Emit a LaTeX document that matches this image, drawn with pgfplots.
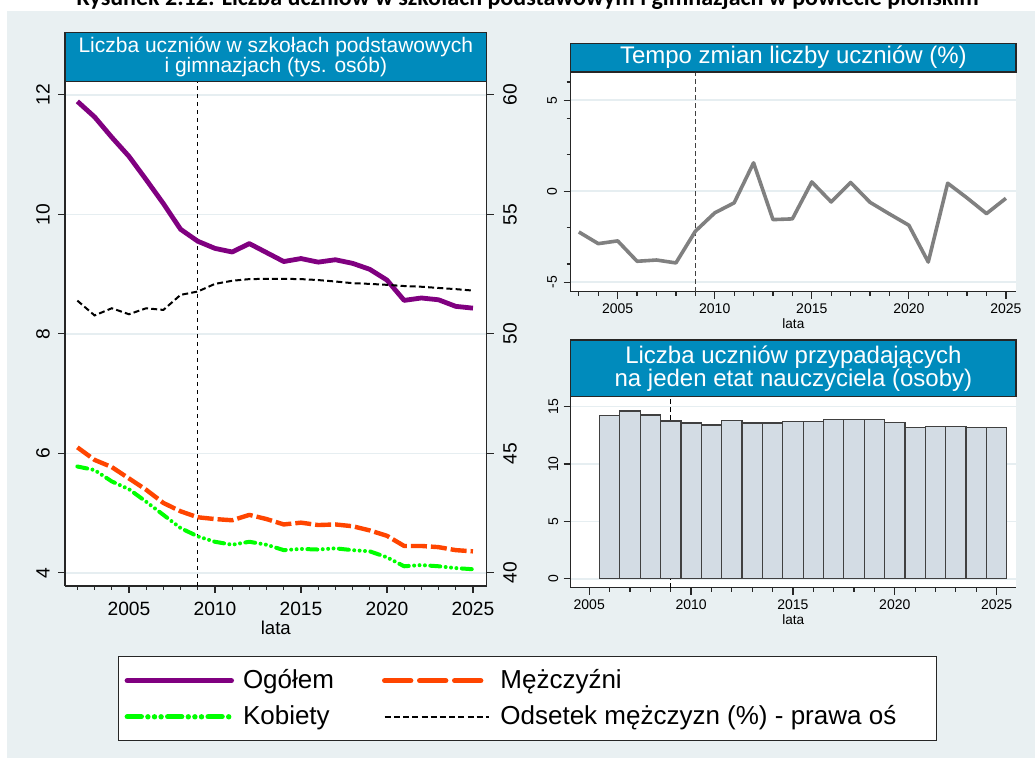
\documentclass[border=0pt]{standalone}
\usepackage{fontspec}
\setmainfont{Liberation Sans}
\newfontfamily\carlito{Carlito}
\usepackage{pgfplots}
\usepackage{pgfplotstable}
\pgfplotsset{compat=1.18}

\definecolor{ebblue}{RGB}{0,139,188}
\definecolor{bgcol}{RGB}{233,240,242}
\definecolor{gridc}{RGB}{230,238,241}
\definecolor{barfill}{RGB}{211,220,228}
\definecolor{ogol}{RGB}{128,0,128}
\definecolor{mez}{RGB}{255,69,0}
\definecolor{kob}{RGB}{0,255,0}
\definecolor{tempo}{RGB}{128,128,128}

\pgfplotstableread{
rok ogol mez kob ods
2002 11.89 6.10 5.78 51.39
2003 11.63 5.89 5.72 50.77
2004 11.29 5.77 5.53 51.07
2005 10.97 5.58 5.40 50.82
2006 10.58 5.39 5.19 51.07
2007 10.18 5.17 4.97 51.00
2008 9.75 5.03 4.75 51.63
2009 9.55 4.93 4.61 51.77
2010 9.43 4.90 4.52 52.09
2011 9.37 4.88 4.47 52.22
2012 9.51 4.97 4.52 52.29
2013 9.36 4.90 4.47 52.30
2014 9.21 4.81 4.38 52.30
2015 9.26 4.84 4.40 52.29
2016 9.20 4.80 4.39 52.25
2017 9.24 4.81 4.41 52.19
2018 9.18 4.78 4.38 52.12
2019 9.08 4.71 4.36 52.09
2020 8.90 4.62 4.26 52.05
2021 8.56 4.45 4.11 52.00
2022 8.60 4.45 4.13 51.97
2023 8.57 4.43 4.11 51.92
2024 8.46 4.38 4.08 51.87
2025 8.43 4.36 4.06 51.81
}\uczniowie

\pgfplotstableread{
rok tempo
2003 -2.24
2004 -2.88
2005 -2.73
2006 -3.85
2007 -3.78
2008 -3.94
2009 -2.20
2010 -1.19
2011 -0.64
2012 1.56
2013 -1.56
2014 -1.52
2015 0.51
2016 -0.59
2017 0.48
2018 -0.61
2019 -1.25
2020 -1.87
2021 -3.89
2022 0.44
2023 -0.37
2024 -1.23
2025 -0.39
}\tempotab

\pgfplotstableread{
rok etat
2006 14.22
2007 14.62
2008 14.27
2009 13.75
2010 13.58
2011 13.40
2012 13.81
2013 13.58
2014 13.58
2015 13.69
2016 13.69
2017 13.87
2018 13.87
2019 13.87
2020 13.63
2021 13.17
2022 13.26
2023 13.26
2024 13.17
2025 13.17
}\etattab

\pgfplotsset{
  panel/.style={
    scale only axis,
    /pgf/number format/assume math mode=true,
    /pgf/number format/1000 sep={},
    tick align=outside,
    axis line style={line width=0.75pt, black!85, -},
    every outer x axis line/.append style={-},
    every outer y axis line/.append style={-},
    tick style={line width=0.6pt, black!85},
    major tick length=3.5pt,
    minor tick length=2pt,
    grid style={gridc, line width=0.8pt},
    clip=false,
  },
  ogolS/.style={ogol, line width=2.4pt, line join=round},
  mezS/.style={mez, line width=2.2pt, line join=round, dash pattern=on 8pt off 2pt},
  kobS/.style={kob, line width=2pt, line cap=round, line join=round,
     dash pattern=on 5pt off 2.7pt on 0pt off 2.7pt on 0pt off 2.7pt on 0pt off 2.7pt},
  odsS/.style={black, line width=1pt, dash pattern=on 3pt off 1.6pt},
}

\begin{document}
\begin{tikzpicture}[x=1pt,y=1pt]
\useasboundingbox (0,0) rectangle (517.5,379);
\fill[bgcol] (3.5,0) rectangle (517.5,373.5);
\node[anchor=base, font=\carlito\bfseries\fontsize{12}{14}\selectfont] at (263.75,376)
  {Rysunek 2.12: Liczba uczniów w szkołach podstawowym i gimnazjach w powiecie płońskim};

% ---------------- left panel ----------------
\begin{axis}[panel,
  at={(32.5pt,86pt)}, anchor=south west,
  width=210.85pt, height=252.15pt,
  xmin=2001.28, xmax=2025.8, ymin=3.78, ymax=12.22,
  axis x line*=bottom, axis y line*=left,
  xtick pos=bottom, ytick pos=left,
  xtick={2005,2010,2015,2020,2025}, minor xtick={2002,...,2025},
  ytick={4,6,8,10,12},
  ymajorgrids,
  axis background/.style={fill=white},
  yticklabel style={rotate=90, anchor=center, yshift=7.5pt, font=\fontsize{9.6}{10}\selectfont},
  xticklabel style={anchor=center, yshift=-8pt, font=\fontsize{9.6}{10}\selectfont},
  xlabel={lata},
  xlabel style={at={(axis description cs:0.5,-0.0833)}, anchor=center, font=\fontsize{9.3}{10}\selectfont},
]
\addplot[black, line width=0.6pt, dash pattern=on 2.2pt off 1.8pt] coordinates {(2009,3.78) (2009,12.22)};
\addplot[ogolS] table[x=rok, y=ogol] {\uczniowie};
\addplot[mezS] table[x=rok, y=mez] {\uczniowie};
\addplot[kobS] table[x=rok, y=kob] {\uczniowie};
\end{axis}

\begin{axis}[panel,
  at={(32.5pt,86pt)}, anchor=south west,
  width=210.85pt, height=252.15pt,
  xmin=2001.28, xmax=2025.8, ymin=39.45, ymax=60.55,
  axis x line=none, axis y line*=right, ytick pos=right,
  ytick={40,45,50,55,60},
  yticklabel style={rotate=90, anchor=center, yshift=-8.15pt, font=\fontsize{9.6}{10}\selectfont},
  legend columns=2,
  legend cell align=left,
  legend image code/.code={\draw[#1] (0pt,0pt) -- (52pt,0pt); \path (56.5pt,0pt);},
  legend style={at={(0.1257,-0.1388)}, anchor=north west, draw=black!85, line width=0.6pt,
    fill=white, font=\fontsize{13}{15}\selectfont, inner xsep=3pt, inner ysep=6.5pt,
    nodes={inner sep=0pt}, row sep=7pt, column sep=0pt},
]
\addlegendimage{ogol, line width=2.7pt, line cap=round}
\addlegendentry{\makebox[69.5pt][l]{Ogółem}}
\addlegendimage{mez, line width=2.7pt, line cap=round, dash pattern=on 13pt off 4.5pt}
\addlegendentry{\makebox[215pt][l]{Mężczyźni}}
\addlegendimage{kob, line width=2.7pt, line cap=round,
   dash pattern=on 7pt off 3.3pt on 0pt off 3.3pt on 0pt off 3.3pt on 0pt off 3.3pt}
\addlegendentry{\makebox[69.5pt][l]{Kobiety}}
\addplot[odsS] table[x=rok, y=ods] {\uczniowie};
\addlegendentry{\makebox[215pt][l]{Odsetek mężczyzn (\%) - prawa oś}}
\end{axis}

\draw[fill=ebblue, draw=black!85, line width=0.75pt] (32.5,338.15) rectangle (243.35,362.85);
\node[text=white, align=center, font=\fontsize{10.5}{10}\selectfont] at (137.9,350.5)
  {Liczba uczniów w szkołach podstawowych\\ i gimnazjach (tys. osób)};

% ---------------- top right panel ----------------
\begin{axis}[panel,
  at={(285.35pt,233.15pt)}, anchor=south west,
  width=222.65pt, height=109.85pt,
  xmin=2002.58, xmax=2025.52, ymin=-5.52, ymax=6.55,
  axis x line*=bottom, axis y line*=left,
  xtick pos=bottom, ytick pos=left,
  xtick={2005,2010,2015,2020,2025}, minor xtick={2003,...,2025},
  ytick={-5,0,5}, minor ytick={-4,-2,2,4,6},
  ymajorgrids,
  axis background/.style={fill=white},
  yticklabel style={rotate=90, anchor=center, yshift=5.85pt, font=\fontsize{7}{8}\selectfont},
  xticklabel style={anchor=center, yshift=-5pt, font=\fontsize{7}{8}\selectfont},
  xlabel={lata},
  xlabel style={at={(axis description cs:0.5,-0.147)}, anchor=center, font=\fontsize{6.8}{8}\selectfont},
]
\addplot[black!75, line width=0.6pt, dash pattern=on 2.2pt off 1.8pt] coordinates {(2009,-5.52) (2009,6.55)};
\addplot[tempo, line width=1.8pt, line join=round] table[x=rok, y=tempo] {\tempotab};
\end{axis}
\draw[fill=ebblue, draw=black!85, line width=0.75pt] (285.35,343) rectangle (508,357.35);
\node[text=white, font=\fontsize{12}{12}\selectfont] at (396.7,350.2) {Tempo zmian liczby uczniów (\%)};

% ---------------- bottom right panel ----------------
\begin{axis}[panel,
  at={(285.35pt,85.15pt)}, anchor=south west,
  width=222.65pt, height=95.5pt,
  xmin=2004.09, xmax=2025.95, ymin=-0.78, ymax=15.87,
  axis x line*=bottom, axis y line*=left,
  xtick pos=bottom, ytick pos=left,
  xtick={2005,2010,2015,2020,2025}, minor xtick={2006,...,2024},
  ytick={0,5,10,15},
  ymajorgrids,
  axis background/.style={fill=white},
  yticklabel style={rotate=90, anchor=center, yshift=5.2pt, font=\fontsize{7}{8}\selectfont},
  xticklabel style={anchor=center, yshift=-5.2pt, font=\fontsize{7}{8}\selectfont},
  xlabel={lata},
  xlabel style={at={(axis description cs:0.5,-0.169)}, anchor=center, font=\fontsize{6.8}{8}\selectfont},
]
\addplot[black, line width=0.5pt, dash pattern=on 2.2pt off 1.8pt] coordinates {(2009,-0.78) (2009,15.87)};
\addplot[ybar, bar width=1, bar shift=0pt, fill=barfill, draw=black!75, line width=0.6pt]
  table[x=rok, y=etat] {\etattab};
\end{axis}
\draw[fill=ebblue, draw=black!85, line width=0.75pt] (285.35,180.65) rectangle (508,209);
\node[text=white, align=center, font=\fontsize{12}{11.7}\selectfont] at (396.7,194.8)
  {Liczba uczniów przypadających\\ na jeden etat nauczyciela (osoby)};
\end{tikzpicture}
\end{document}
